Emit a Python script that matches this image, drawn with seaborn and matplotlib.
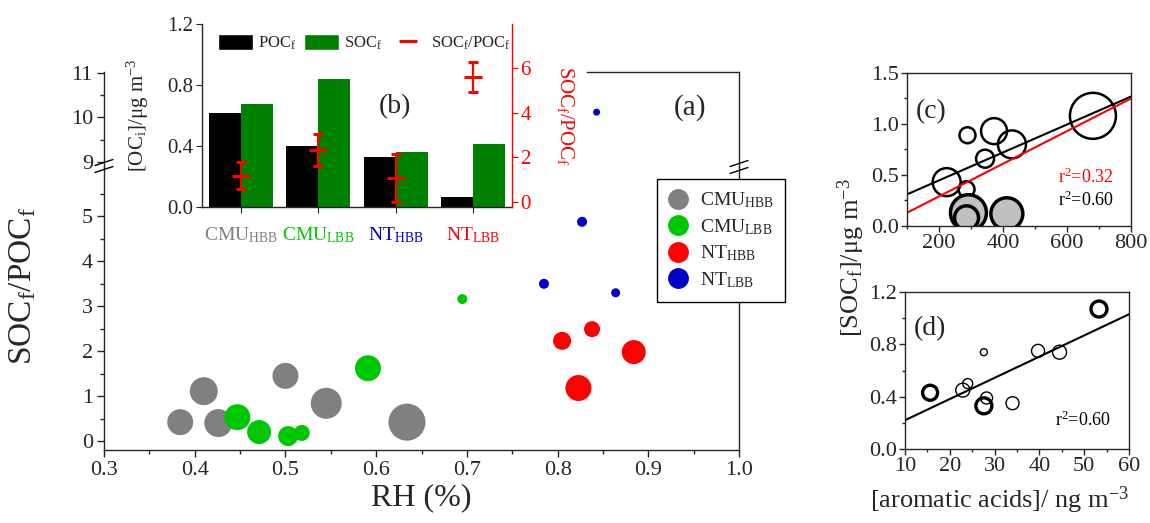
import numpy as np
import pandas as pd
import matplotlib
matplotlib.use("Agg")
import matplotlib.pyplot as plt
import seaborn as sns
from matplotlib.lines import Line2D
from matplotlib.patches import Patch
from matplotlib.ticker import MultipleLocator, FormatStrFormatter, FixedLocator

# ------------------------------------------------------------------ data
group_labels = [r"CMU$_{\mathrm{HBB}}$", r"CMU$_{\mathrm{LBB}}$",
                r"NT$_{\mathrm{HBB}}$", r"NT$_{\mathrm{LBB}}$"]
group_colors = ["#808080", "#00c800", "#ff0000", "#0000c8"]

# panel (a): RH vs SOCf/POCf, bubble radius (px) encodes a third variable
cmu_hbb_rh = [0.384, 0.410, 0.426, 0.500, 0.545, 0.634]
cmu_hbb_ratio = [0.42, 1.11, 0.40, 1.45, 0.84, 0.42]
cmu_hbb_bubble = [13, 14, 14, 13, 15.5, 18.5]

cmu_lbb_rh = [0.447, 0.471, 0.503, 0.518, 0.591, 0.695]
cmu_lbb_ratio = [0.53, 0.20, 0.11, 0.18, 1.62, 3.16]
cmu_lbb_bubble = [13, 12, 10, 8, 13, 5]

nt_hbb_rh = [0.805, 0.838, 0.884, 0.823]
nt_hbb_ratio = [2.23, 2.49, 1.98, 1.18]
nt_hbb_bubble = [9, 8, 12, 13]

nt_lbb_rh = [0.785, 0.864, 0.827, 0.843]
nt_lbb_ratio = [3.50, 3.30, 4.88, 10.12]
nt_lbb_bubble = [5, 4.5, 5, 3.5]

# panel (b): inset bars
bar_labels = group_labels
bar_label_colors = ["#808080", "#00c800", "#0000c8", "#ff0000"]
poc_f = [0.616, 0.40, 0.33, 0.065]
soc_f = [0.675, 0.84, 0.36, 0.41]
ratio_mean = [1.16, 2.32, 1.07, 5.58]
ratio_err = [0.60, 0.73, 1.07, 0.67]

# panel (c)
c_open_x = [681, 289, 372, 428, 344, 224, 286]
c_open_y = [1.08, 0.89, 0.93, 0.80, 0.66, 0.43, 0.36]
c_open_bubble = [23, 8, 13, 14, 9, 14, 8]
c_fill_x = [292, 286, 412]
c_fill_y = [0.13, 0.08, 0.12]
c_fill_bubble = [18, 12, 16]
c_fit_black = (0.00137, 0.173)   # slope, intercept
c_fit_red = (0.00160, -0.030)
c_r2 = ["0.32", "0.60"]

# panel (d)
d_x = [15.6, 22.9, 24.0, 27.6, 27.6, 28.2, 34.0, 39.7, 44.5, 53.3]
d_y = [0.43, 0.45, 0.50, 0.74, 0.33, 0.39, 0.35, 0.75, 0.74, 1.07]
d_bubble = [7.5, 7, 5, 3.5, 8, 6, 6.5, 6.5, 7, 8]
d_thick = [True, False, False, False, True, False, False, False, False, True]
d_fit = (0.0162, 0.058)
d_r2 = "0.60"

# ------------------------------------------------------------------ style
sns.set_style("ticks")
plt.rcParams["font.family"] = ["Liberation Serif", "DejaVu Serif"]
plt.rcParams["mathtext.fontset"] = "custom"
plt.rcParams["mathtext.rm"] = "Liberation Serif"
plt.rcParams["mathtext.it"] = "Liberation Serif:italic"
plt.rcParams["mathtext.bf"] = "Liberation Serif:bold"
plt.rcParams["axes.linewidth"] = 1.0

W, H = 1150, 523
fig = plt.figure(figsize=(W / 100, H / 100), dpi=100)


def fx(p):
    return p / W


def fy(p):
    return 1 - p / H


def rect(l, t, r, b):
    return [fx(l), fy(b), (r - l) / W, (b - t) / H]


def bub(r):
    return (1.44 * np.asarray(r, dtype=float)) ** 2


# ------------------------------------------------------------------ panel (a)
ax_lo = fig.add_axes(rect(104, 167, 739, 450))
ax_hi = fig.add_axes(rect(104, 72, 739, 167))

main_df = pd.DataFrame({
    "rh": cmu_hbb_rh + cmu_lbb_rh + nt_hbb_rh + nt_lbb_rh,
    "ratio": cmu_hbb_ratio + cmu_lbb_ratio + nt_hbb_ratio + nt_lbb_ratio,
    "bubble": cmu_hbb_bubble + cmu_lbb_bubble + nt_hbb_bubble + nt_lbb_bubble,
    "group": [group_labels[0]] * len(cmu_hbb_rh) + [group_labels[1]] * len(cmu_lbb_rh)
    + [group_labels[2]] * len(nt_hbb_rh) + [group_labels[3]] * len(nt_lbb_rh),
})
palette = dict(zip(group_labels, group_colors))
for ax in (ax_lo, ax_hi):
    sns.scatterplot(data=main_df, x="rh", y="ratio", hue="group", palette=palette,
                    s=bub(main_df["bubble"]), linewidth=0, legend=False, ax=ax)
    ax.set_xlim(0.3, 1.0)
    ax.set_xlabel("")
    ax.set_ylabel("")

ax_lo.set_ylim(-0.2, 6.1)
ax_hi.set_ylim(8.89, 11.02)
ax_lo.spines["top"].set_visible(False)
ax_hi.spines["bottom"].set_visible(False)
ax_hi.spines["top"].set_bounds(0.8325, 1.0)

ax_lo.xaxis.set_major_locator(MultipleLocator(0.1))
ax_lo.xaxis.set_minor_locator(MultipleLocator(0.05))
ax_lo.xaxis.set_major_formatter(FormatStrFormatter("%.1f"))
ax_lo.yaxis.set_major_locator(FixedLocator([0, 1, 2, 3, 4, 5]))
ax_lo.yaxis.set_minor_locator(FixedLocator([0.5, 1.5, 2.5, 3.5, 4.5, 5.5]))
ax_hi.yaxis.set_major_locator(FixedLocator([9, 10, 11]))
ax_hi.yaxis.set_minor_locator(FixedLocator([9.5, 10.5]))
ax_hi.tick_params(axis="x", which="both", bottom=False, labelbottom=False)
for ax in (ax_lo, ax_hi):
    ax.tick_params(which="major", direction="out", length=5, width=1, labelsize=16, pad=3)
    ax.tick_params(which="minor", direction="out", length=3, width=1)
    ax.tick_params(right=False, top=False, which="both")

ax_lo.set_xlabel("RH (%)", fontsize=23, labelpad=2)
ax_lo.set_ylabel(r"SOC$_{\mathrm{f}}$/POC$_{\mathrm{f}}$", fontsize=24)
ax_lo.yaxis.set_label_coords(-0.104, 0.58)

# axis-break marks
def draw_break(xc, yc):
    for dy in (-3.5, 3.5):
        fig.add_artist(Line2D([fx(xc - 9), fx(xc + 9)], [fy(yc + dy + 3), fy(yc + dy - 3)],
                              transform=fig.transFigure, color="black", lw=1))

draw_break(104, 166)
draw_break(739, 167)

fig.text(fx(690), fy(108), "(a)", fontsize=21, ha="center", va="center")

handles = [Line2D([], [], marker="o", ls="none", color=c, markersize=14) for c in group_colors]
fig.legend(handles, group_labels, loc="upper left", bbox_to_anchor=(fx(657), fy(179)),
           bbox_transform=fig.transFigure, frameon=True, fancybox=False, edgecolor="black",
           framealpha=1, fontsize=14, handlelength=1.0, handletextpad=0.6, labelspacing=0.35,
           borderpad=0.6, borderaxespad=0)

# ------------------------------------------------------------------ panel (b) inset
ax_b = fig.add_axes(rect(202, 24, 512, 207), zorder=3)
ax_b.patch.set_visible(False)
bar_df = pd.DataFrame({
    "cat": bar_labels * 2,
    "kind": ["POC"] * len(poc_f) + ["SOC"] * len(soc_f),
    "value": poc_f + soc_f,
})
sns.barplot(data=bar_df, x="cat", y="value", hue="kind", order=bar_labels,
            hue_order=["POC", "SOC"], palette={"POC": "black", "SOC": "#008000"},
            width=0.83, saturation=1, linewidth=0, errorbar=None, legend=False, ax=ax_b)
ax_b.set_xlim(-0.5, 3.5)
ax_b.set_ylim(0, 1.2)
ax_b.set_xlabel("")
ax_b.set_ylabel(r"[OC$_{\mathrm{i}}$]/μg m$^{-3}$", fontsize=15)
ax_b.yaxis.set_label_coords(-0.165, 0.5)
ax_b.yaxis.set_major_locator(MultipleLocator(0.4))
ax_b.yaxis.set_major_formatter(FormatStrFormatter("%.1f"))
ax_b.spines["top"].set_visible(False)
ax_b.spines["right"].set_visible(False)
ax_b.tick_params(axis="y", direction="out", length=4, labelsize=15, pad=2)
ax_b.tick_params(axis="x", direction="out", length=4, labelsize=14, pad=9)
for lbl, c in zip(ax_b.get_xticklabels(), bar_label_colors):
    lbl.set_color(c)

ax_r = ax_b.twinx()
ax_r.set_zorder(4)
ax_r.patch.set_visible(False)
ax_r.errorbar(np.arange(len(ratio_mean)), ratio_mean, yerr=ratio_err, fmt="_", color="red",
              ms=13, mew=2.2, elinewidth=1.6, capsize=3.5, capthick=1.6)
ax_r.set_ylim(-0.236, 7.97)
ax_r.yaxis.set_major_locator(MultipleLocator(2))
ax_r.spines["top"].set_visible(False)
ax_r.spines["left"].set_visible(False)
ax_r.spines["bottom"].set_visible(False)
ax_r.spines["right"].set_color("red")
ax_r.tick_params(axis="y", colors="red", direction="out", length=4, labelsize=15, pad=2)
ax_r.set_ylabel(r"SOC$_{\mathrm{f}}$/POC$_{\mathrm{f}}$", color="red", fontsize=15,
                rotation=270, va="bottom")
ax_r.yaxis.set_label_coords(1.14, 0.5)

leg_handles = [Patch(facecolor="black"), Patch(facecolor="#008000"),
               Line2D([], [], color="red", marker="_", ls="none", markersize=13, mew=2.2)]
leg_labels = [r"POC$_{\mathrm{f}}$", r"SOC$_{\mathrm{f}}$", r"SOC$_{\mathrm{f}}$/POC$_{\mathrm{f}}$"]
ax_r.legend(leg_handles, leg_labels, ncol=3, loc="center left", bbox_to_anchor=(0.05, 0.896),
            frameon=False, fontsize=12, handlelength=2.1, handleheight=1.1,
            handletextpad=0.3, columnspacing=0.5, borderpad=0, borderaxespad=0)
fig.text(fx(395), fy(107), "(b)", fontsize=20, ha="center", va="center", zorder=5)

# ------------------------------------------------------------------ panel (c)
ax_c = fig.add_axes(rect(907, 73, 1131, 226))
c_open = pd.DataFrame({"x": c_open_x, "y": c_open_y, "b": c_open_bubble})
c_fill = pd.DataFrame({"x": c_fill_x, "y": c_fill_y, "b": c_fill_bubble})
sns.scatterplot(data=c_open, x="x", y="y", s=bub(c_open["b"]), facecolor="none",
                edgecolor="black", linewidth=1.8, legend=False, ax=ax_c)
xs_c = np.array([100, 800])
sns.lineplot(x=xs_c, y=c_fit_black[0] * xs_c + c_fit_black[1], color="black", lw=1.5, ax=ax_c)
sns.lineplot(x=xs_c, y=c_fit_red[0] * xs_c + c_fit_red[1], color="red", lw=1.5, ax=ax_c)
sns.scatterplot(data=c_fill, x="x", y="y", s=bub(c_fill["b"]), facecolor="#c0c0c0",
                edgecolor="black", linewidth=2.5, legend=False, ax=ax_c)
ax_c.set_xlim(100, 800)
ax_c.set_ylim(0, 1.5)
ax_c.xaxis.set_major_locator(MultipleLocator(200))
ax_c.xaxis.set_minor_locator(MultipleLocator(100))
ax_c.yaxis.set_major_locator(MultipleLocator(0.5))
ax_c.yaxis.set_minor_locator(MultipleLocator(0.25))
ax_c.yaxis.set_major_formatter(FormatStrFormatter("%.1f"))
ax_c.set_xlabel("")
ax_c.set_ylabel("")
ax_c.text(0.04, 0.75, "(c)", transform=ax_c.transAxes, fontsize=20, va="center")
ax_c.text(0.675, 0.32, r"r$^{2}$=" + c_r2[0], transform=ax_c.transAxes, fontsize=13,
          color="red", va="center")
ax_c.text(0.675, 0.17, r"r$^{2}$=" + c_r2[1], transform=ax_c.transAxes, fontsize=13,
          color="black", va="center")

# ------------------------------------------------------------------ panel (d)
ax_d = fig.add_axes(rect(905, 292, 1129, 449))
d_df = pd.DataFrame({"x": d_x, "y": d_y, "b": d_bubble, "thick": d_thick})
d_lw = np.where(d_df["thick"], 2.4, 1.0)
sns.scatterplot(data=d_df, x="x", y="y", s=bub(d_df["b"]), facecolor="none",
                edgecolor="black", linewidth=d_lw, legend=False, ax=ax_d)
xs_d = np.array([10, 60])
sns.lineplot(x=xs_d, y=d_fit[0] * xs_d + d_fit[1], color="black", lw=1.5, ax=ax_d)
ax_d.set_xlim(10, 60)
ax_d.set_ylim(0, 1.2)
ax_d.xaxis.set_major_locator(MultipleLocator(10))
ax_d.xaxis.set_minor_locator(MultipleLocator(5))
ax_d.yaxis.set_major_locator(MultipleLocator(0.4))
ax_d.yaxis.set_minor_locator(MultipleLocator(0.2))
ax_d.yaxis.set_major_formatter(FormatStrFormatter("%.1f"))
ax_d.set_ylabel("")
ax_d.set_xlabel("")
fig.text(fx(1000), fy(500), r"[aromatic acids]/ ng m$^{-3}$", fontsize=19,
         ha="center", va="center")
ax_d.text(0.04, 0.77, "(d)", transform=ax_d.transAxes, fontsize=20, va="center")
ax_d.text(0.67, 0.18, r"r$^{2}$=" + d_r2, transform=ax_d.transAxes, fontsize=13,
          color="black", va="center")

for ax in (ax_c, ax_d):
    ax.tick_params(which="major", direction="out", length=4, width=1, labelsize=16, pad=2)
    ax.tick_params(which="minor", direction="out", length=2.5, width=1)
    ax.tick_params(which="both", top=False, right=False)
    for sp in ax.spines.values():
        sp.set_visible(True)
        sp.set_linewidth(1.0)

fig.text(fx(851), fy(258), r"[SOC$_{\mathrm{f}}$]/μg m$^{-3}$", fontsize=19, rotation=90,
         ha="center", va="center")

fig.savefig("out.png", dpi=100)
